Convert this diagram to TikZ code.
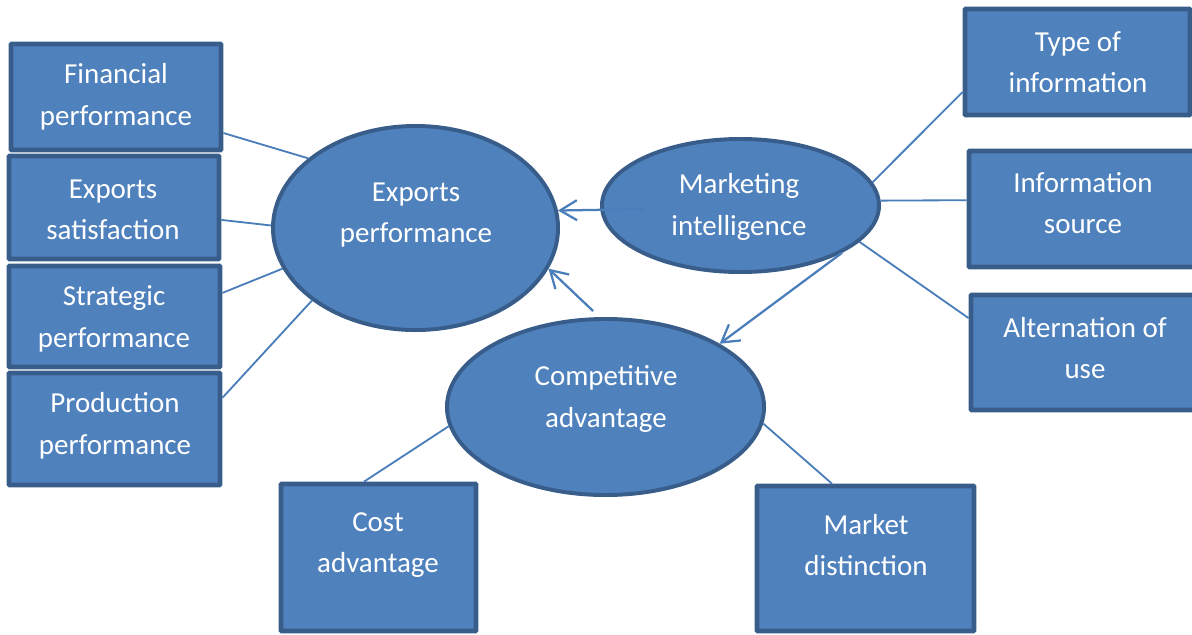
\documentclass[tikz,border=0pt]{standalone}
\usepackage{fontspec}
\setmainfont{Carlito}
\usepackage{tikz}
\usetikzlibrary{arrows.meta, shapes.geometric, calc}

\definecolor{boxfill}{HTML}{4F81BD}
\definecolor{boxline}{HTML}{385D8A}
\definecolor{linkline}{HTML}{4A7EBB}

\begin{document}
\begin{tikzpicture}[x=0.025cm, y=-0.025cm,
    box/.style={rectangle, draw=boxline, fill=boxfill, line width=3.4pt, rounded corners=0.6pt, inner sep=0pt},
    oval/.style={ellipse, draw=boxline, fill=boxfill, line width=2.8pt, inner sep=0pt},
    txt/.style={text=white, align=center, inner sep=0pt, font=\fontsize{20.6}{29.5}\selectfont},
    link/.style={draw=linkline, line width=1.3pt},
    arw/.style={draw=linkline, line width=1.6pt, -{Straight Barb[length=0.42cm, width=0.5cm]}}]
    \useasboundingbox (0,0) rectangle (1192,634);

    % left column
    \node[box, minimum width=5.25cm, minimum height=2.65cm] (fin) at (116,97) {};
    \node[box, minimum width=5.25cm, minimum height=2.575cm] (sat) at (114,207.5) {};
    \node[box, minimum width=5.275cm, minimum height=2.525cm] (str) at (114.5,316.5) {};
    \node[box, minimum width=5.275cm, minimum height=2.8cm] (pro) at (114.5,429) {};
    \node[txt] (fin-t) at (116,97) {Financial\\performance};
    \node[txt] (sat-t) at (113,210) {Exports\\satisfaction};
    \node[txt] (str-t) at (114,319) {Strategic\\performance};
    \node[txt] (pro-t) at (115,426) {Production\\performance};

    % right column
    \node[box, minimum width=5.625cm, minimum height=2.65cm] (typ) at (1077.5,62) {};
    \node[box, minimum width=5.725cm, minimum height=2.9cm] (src) at (1083.5,209) {};
    \node[box, minimum width=5.675cm, minimum height=2.875cm] (alt) at (1084.5,352.5) {};
    \node[txt] (typ-t) at (1078,62) {Type of\\information};
    \node[txt] (src-t) at (1083,203) {Information\\source};
    \node[txt] (alt-t) at (1085,348) {Alternation of\\use};

    % bottom row
    \node[box, minimum width=4.875cm, minimum height=3.675cm] (cst) at (378.5,557.5) {};
    \node[box, minimum width=5.425cm, minimum height=3.625cm] (mkt) at (865.5,558.5) {};
    \node[txt] (cst-t) at (378,545) {Cost\\advantage};
    \node[txt] (mkt-t) at (866,545) {Market\\distinction};

    % the three constructs
    \node[oval, minimum width=7.125cm, minimum height=5.1cm] (ep) at (415.5,228) {};
    \node[oval, minimum width=6.925cm, minimum height=3.325cm] (mi) at (740.5,205.5) {};
    \node[oval, minimum width=7.925cm, minimum height=4.4cm] (ca) at (605.5,407) {};
    \node[txt] (ep-t) at (416,215) {Exports\\performance};
    \node[txt] (mi-t) at (739,207) {Marketing\\intelligence};
    \node[txt] (ca-t) at (606,399) {Competitive\\advantage};

    \draw[link] ([yshift=-0.9cm]fin.east) -- (ep.147);
    \draw[link] ([yshift=-0.31cm]sat.east) -- (ep.179);
    \draw[link] ([yshift=0.59cm]str.east) -- (ep.197);
    \draw[link] ([yshift=0.78cm]pro.east) -- (ep.215);

    \draw[link] ([xshift=-0.36cm]cst.north) -- (ca.187);
    \draw[link] ([xshift=-0.84cm]mkt.north) -- (ca.-6);

    \draw[link] ([yshift=-0.75cm]typ.west) -- (mi.10);
    \draw[link] ([yshift=0.22cm]src.west) -- (mi.2);
    \draw[link] ([yshift=0.86cm]alt.west) -- (mi.-17);

    \draw[arw] ([xshift=1.125cm, yshift=-0.09cm]mi.west) -- (ep.7);
    \draw[arw] ([xshift=-0.31cm, yshift=0.15cm]ca.north) -- (ep.-17);
    \draw[arw] (mi.-25) -- (ca.29);

\end{tikzpicture}
\end{document}
